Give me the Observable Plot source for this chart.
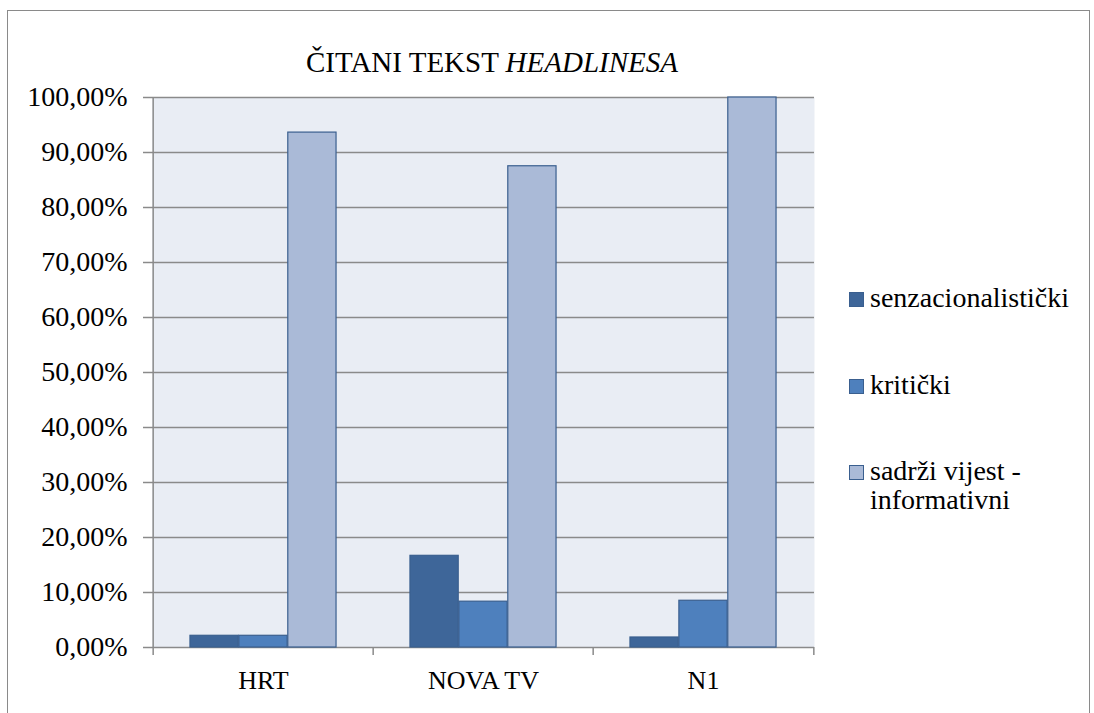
<!DOCTYPE html>
<html>
<head>
<meta charset="utf-8">
<script src="https://cdn.jsdelivr.net/npm/d3@7"></script>
<script src="https://cdn.jsdelivr.net/npm/@observablehq/plot@0.6"></script>
<style>
  html, body { margin: 0; padding: 0; background: #fff; }
  #wrap { position: relative; width: 1094px; height: 713px; overflow: hidden; color: #000; }
  #border { position: absolute; left: 7px; top: 10px; width: 1083px; height: 720px; border: 1.5px solid #8a8a8a; box-sizing: border-box; }
  #chart { position: absolute; left: 0; top: 0; }
</style>
</head>
<body>
<div id="wrap">
  <div id="border"></div>
  <div id="chart"></div>
</div>
<script>
// ---- data ----
const categories = ["HRT", "NOVA TV", "N1"];
const seriesNames = ["senzacionalistički", "kritički", "sadrži vijest - informativni"];
const legendLines = [["senzacionalistički"], ["kritički"], ["sadrži vijest -", "informativni"]];
const senzacionalisticki = [0.0213, 0.1667, 0.0182];
const kriticki = [0.0213, 0.0833, 0.085];
const informativni = [0.9362, 0.875, 1.0];
const yTicks = [0, 0.1, 0.2, 0.3, 0.4, 0.5, 0.6, 0.7, 0.8, 0.9, 1.0];
const seriesColors = ["#3e6699", "#4e80bd", "#aabad7"];
const titleMain = "ČITANI TEKST ";
const titleItalic = "HEADLINESA";

const seriesValues = [senzacionalisticki, kriticki, informativni];

// ---- layout ----
const W = 1094, H = 713, ml = 152, mr = 280, mt = 97, mb = 66;
const plotH = H - mt - mb;
const bw = (W - ml - mr) / categories.length;
const outer = bw * 0.1675;
const barW = bw * (1 - 0.335) / 3;
const gridColor = "#8a8a8a";
const font = "Liberation Serif, serif";
const fmt = d => d3.format(".2%")(d).replace(".", ",");

const barMarks = seriesValues.map((vals, j) => {
  const rows = categories.map((c, i) => ({category: c, value: vals[i], series: seriesNames[j]}));
  return Plot.barY(rows, {
    x: "category", y: "value",
    fill: seriesColors[j], stroke: "#3a5f8f", strokeWidth: 1.2,
    insetLeft: outer + j * barW,
    insetRight: bw - outer - (j + 1) * barW
  });
});

const chart = Plot.plot({
  width: W, height: H,
  marginLeft: ml, marginRight: mr, marginTop: mt, marginBottom: mb,
  style: {fontFamily: font, color: "#000", background: "transparent", overflow: "visible"},
  x: {type: "band", domain: categories, padding: 0},
  y: {domain: [0, 1]},
  marks: [
    Plot.frame({fill: "#e9edf4", stroke: "none"}),
    Plot.ruleY(yTicks, {stroke: gridColor, strokeWidth: 1.5}),
    ...barMarks,
    Plot.ruleX([categories[0]], {x: d => d, dx: -bw / 2, stroke: gridColor, strokeWidth: 1.5, insetBottom: -8}),
    Plot.ruleX(categories.slice(1), {x: d => d, dx: -bw / 2, stroke: gridColor, strokeWidth: 1.5, insetTop: plotH, insetBottom: -8}),
    Plot.ruleX([categories[categories.length - 1]], {x: d => d, dx: bw / 2, stroke: gridColor, strokeWidth: 1.5, insetTop: plotH, insetBottom: -8}),
    Plot.axisY({ticks: yTicks, tickFormat: fmt, tickSize: 9, tickPadding: 16, fontSize: 28, stroke: gridColor, strokeWidth: 1.5, label: null}),
    Plot.axisX({tickSize: 0, tickPadding: 23, fontSize: 26, label: null})
  ]
});
document.getElementById("chart").appendChild(chart);

// ---- title & legend (SVG text, same font as the axes) ----
const svg = d3.select(chart);
const title = svg.append("text")
  .attr("x", 492).attr("y", 72)
  .attr("text-anchor", "middle")
  .attr("font-family", font).attr("font-size", 29).attr("fill", "#000");
title.append("tspan").text(titleMain);
title.append("tspan").attr("font-style", "italic").text(titleItalic);

const legendY = [307, 394, 480];
const lg = svg.append("g")
  .attr("font-family", font).attr("font-size", 28).attr("fill", "#000")
  .attr("text-anchor", "start");
legendLines.forEach((lines, j) => {
  lg.append("rect")
    .attr("x", 849.5).attr("y", legendY[j] - 14.5)
    .attr("width", 14).attr("height", 14)
    .attr("fill", seriesColors[j]).attr("stroke", "#3a5f8f").attr("stroke-width", 1);
  const t = lg.append("text").attr("x", 870).attr("y", legendY[j]).attr("text-anchor", "start");
  lines.forEach((ln, k) => {
    t.append("tspan").attr("x", 870).attr("dy", k === 0 ? 0 : 29).text(ln);
  });
});
</script>
</body>
</html>
